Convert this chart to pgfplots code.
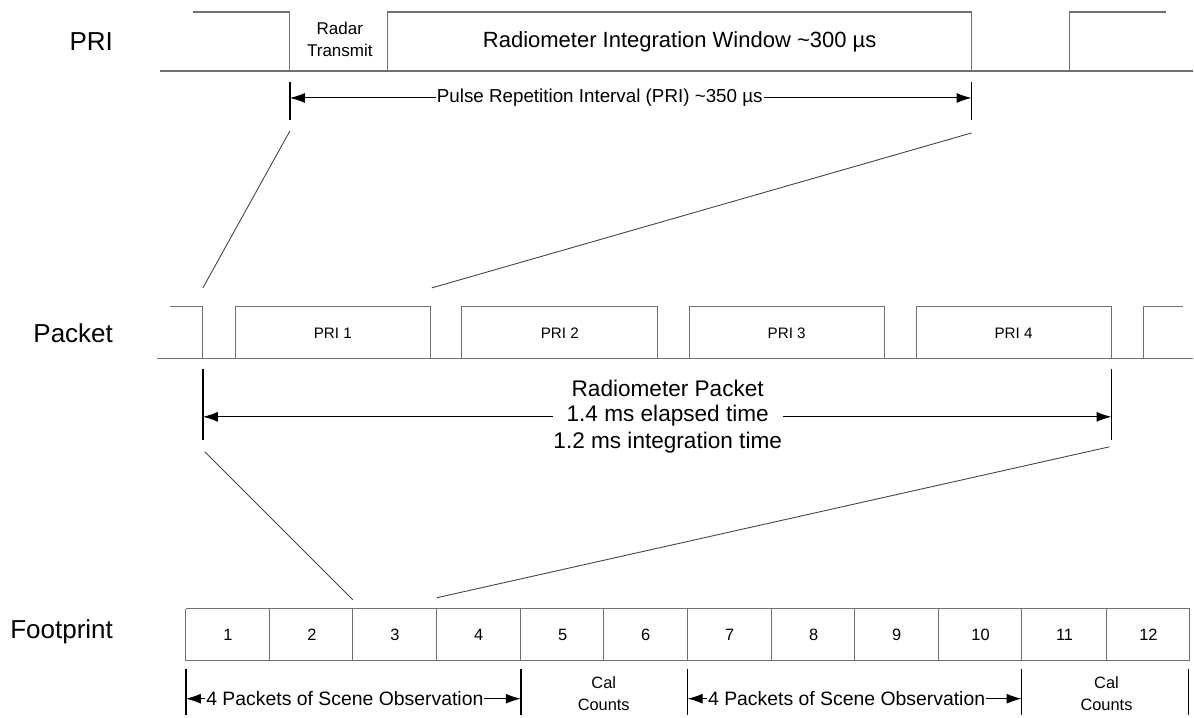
\documentclass[border=0pt]{standalone}
\usepackage{fontspec}
\setmainfont{Liberation Sans}
\usepackage{pgfplots}
\pgfplotsset{compat=1.18}
\usetikzlibrary{arrows.meta}
\definecolor{sigc}{RGB}{112,112,112}
\definecolor{diag}{RGB}{70,70,70}
\newcommand{\fs}[1]{\fontsize{#1}{#1}\selectfont}
\begin{document}
\begin{tikzpicture}
\begin{axis}[
  scale only axis, width=597pt, height=357.5pt,
  xmin=0, xmax=1194, ymin=0, ymax=715, y dir=reverse,
  axis lines=none, clip=false,
  sig/.style={draw=sigc, line width=0.55pt},
  mk/.style={black, line width=0.75pt},
  arr/.style={black, line width=0.5pt, {Latex[length=7.5pt,width=5pt]}-{Latex[length=7.5pt,width=5pt]}},
  dg/.style={diag, line width=0.45pt},
]
\addplot[draw=none] coordinates {(0,0) (1194,715)};
% ---------------- PRI row ----------------
\addplot[sig] coordinates {(160,71) (1194,71)};
\addplot[sig] coordinates {(193,12) (290,12) (290,71)};
\addplot[sig] coordinates {(388,71) (388,12) (972,12) (972,71)};
\addplot[sig] coordinates {(1070,71) (1070,12) (1167,12)};
\node at (340,28) {\fs{8.5}Radar};
\node at (340,50) {\fs{8.5}Transmit};
\node at (680,42) {\fs{11}Radiometer Integration Window \textasciitilde300 µs};
\addplot[mk] coordinates {(290,82) (290,120)};
\addplot[mk] coordinates {(972,82) (972,120)};
\addplot[arr] coordinates {(290,98) (972,98)};
\node[fill=white, inner xsep=0.5pt, inner ysep=1pt] at (600,98) {\fs{9.4}Pulse Repetition Interval (PRI) \textasciitilde350 µs};
% diagonals
\addplot[dg] coordinates {(290,131) (203,288)};
\addplot[dg] coordinates {(972,133) (432,288)};
% ---------------- Packet row ----------------
\addplot[sig] coordinates {(157,359) (1194,359)};
\addplot[sig] coordinates {(170,307) (203,307) (203,359)};
\addplot[sig] coordinates {(236,359) (236,307) (431,307) (431,359)};
\addplot[sig] coordinates {(462,359) (462,307) (658,307) (658,359)};
\addplot[sig] coordinates {(690,359) (690,307) (885,307) (885,359)};
\addplot[sig] coordinates {(917,359) (917,307) (1112,307) (1112,359)};
\addplot[sig] coordinates {(1144,359) (1144,307) (1184,307)};
\node at (333,333) {\fs{7.6}PRI 1};
\node at (560,333) {\fs{7.6}PRI 2};
\node at (787,333) {\fs{7.6}PRI 3};
\node at (1014,333) {\fs{7.6}PRI 4};
\addplot[mk] coordinates {(203,369) (203,440)};
\addplot[mk] coordinates {(1112,369) (1112,440)};
\addplot[arr] coordinates {(203,417) (1112,417)};
\node at (668,389) {\fs{11.3}Radiometer Packet};
\node[fill=white, inner xsep=7pt, inner ysep=1pt] at (668,416) {\fs{11.3}1.4 ms elapsed time};
\node at (668,443) {\fs{11.3}1.2 ms integration time};
% diagonals
\addplot[dg] coordinates {(205,452) (353,600)};
\addplot[dg] coordinates {(1110,447) (437,598)};
% ---------------- Footprint row ----------------
\addplot[sig] coordinates {(186,609) (1190,609) (1190,661) (186,661) (186,609)};
\addplot[sig] coordinates {(270,609) (270,661)};
\addplot[sig] coordinates {(353,609) (353,661)};
\addplot[sig] coordinates {(437,609) (437,661)};
\addplot[sig] coordinates {(521,609) (521,661)};
\addplot[sig] coordinates {(604,609) (604,661)};
\addplot[sig] coordinates {(688,609) (688,661)};
\addplot[sig] coordinates {(772,609) (772,661)};
\addplot[sig] coordinates {(855,609) (855,661)};
\addplot[sig] coordinates {(939,609) (939,661)};
\addplot[sig] coordinates {(1022,609) (1022,661)};
\addplot[sig] coordinates {(1107,609) (1107,661)};
\node at (228,635) {\fs{8.2}1};
\node at (312,635) {\fs{8.2}2};
\node at (395,635) {\fs{8.2}3};
\node at (479,635) {\fs{8.2}4};
\node at (563,635) {\fs{8.2}5};
\node at (646,635) {\fs{8.2}6};
\node at (730,635) {\fs{8.2}7};
\node at (814,635) {\fs{8.2}8};
\node at (897,635) {\fs{8.2}9};
\node at (981,635) {\fs{8.2}10};
\node at (1065,635) {\fs{8.2}11};
\node at (1149,635) {\fs{8.2}12};
\addplot[mk] coordinates {(186,669) (186,715)};
\addplot[mk] coordinates {(521,669) (521,715)};
\addplot[mk] coordinates {(688,669) (688,715)};
\addplot[mk] coordinates {(1022,669) (1022,715)};
\addplot[mk] coordinates {(1189,669) (1189,715)};
\addplot[arr] coordinates {(186,699) (521,699)};
\addplot[arr] coordinates {(688,699) (1022,699)};
\node[fill=white, inner xsep=0.5pt, inner ysep=1pt] at (345,699) {\fs{9.7}4 Packets of Scene Observation};
\node[fill=white, inner xsep=0.5pt, inner ysep=1pt] at (847,699) {\fs{9.7}4 Packets of Scene Observation};
\node at (604,683) {\fs{8.2}Cal};
\node at (604,705) {\fs{8.2}Counts};
\node at (1107,683) {\fs{8.2}Cal};
\node at (1107,705) {\fs{8.2}Counts};
% ---------------- Row labels ----------------
\node[anchor=east] at (120,42) {\fs{13}PRI};
\node[anchor=east] at (120,333) {\fs{13}Packet};
\node[anchor=east] at (120,632) {\fs{13}Footprint};
\end{axis}
\end{tikzpicture}
\end{document}
